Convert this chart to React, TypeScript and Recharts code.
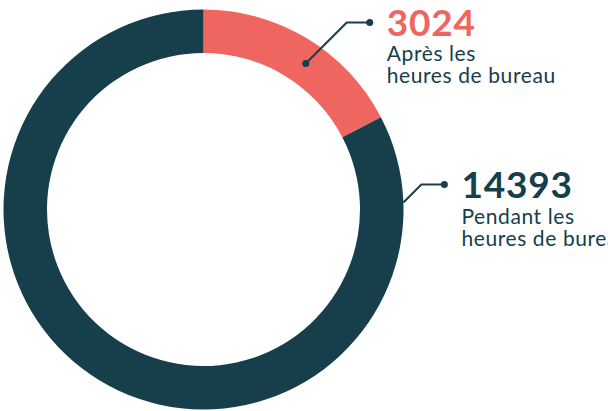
import { PieChart, Pie, Cell } from 'recharts'

// Work hours split
const labels = ['Après les heures de bureau', 'Pendant les heures de bureau']
const subtitleLines = [
  ['Après les', 'heures de bureau'],
  ['Pendant les', 'heures de bureau'],
]
const values = [3024, 14393]
const colors = ['#ef6660', '#163e4b']

// where each callout leaves the ring (degrees, and radius factor inside the ring)
const calloutAngles = [55, 2]
const calloutOnRing = [0.5, 1]

const data = labels.map((name, i) => ({ name, value: values[i] }))

const RAD = Math.PI / 180
const DARK = '#163e4b'

const renderLabel = (props: any) => {
  const { cx, cy, innerRadius, outerRadius, index } = props
  const angle = calloutAngles[index]
  const r = innerRadius + (outerRadius - innerRadius) * calloutOnRing[index]
  const x0 = cx + r * Math.cos(angle * RAD)
  const y0 = cy - r * Math.sin(angle * RAD)

  const step = index === 0 ? 41 : 18
  const elbowX = x0 + step
  const elbowY = y0 - step
  const endX = elbowX + 23
  const tx = endX + 17
  const numY = elbowY + 13

  return (
    <g key={`callout-${index}`}>
      {index === 0 && <circle cx={x0} cy={y0} r={3.5} fill={DARK} />}
      <polyline
        points={`${x0},${y0} ${elbowX},${elbowY} ${endX},${elbowY}`}
        fill="none"
        stroke={DARK}
        strokeWidth={2}
      />
      <circle cx={endX} cy={elbowY} r={3.5} fill={DARK} />
      <text
        x={tx}
        y={numY}
        fill={colors[index]}
        fontFamily="Lato, sans-serif"
        fontWeight={700}
        fontSize={37}
        letterSpacing={0.8}
      >
        {values[index]}
      </text>
      {subtitleLines[index].map((line, j) => (
        <text
          key={j}
          x={tx}
          y={numY + 26 + j * 22}
          fill={DARK}
          fontFamily="Lato, sans-serif"
          fontSize={21}
          letterSpacing={0.6}
        >
          {line}
        </text>
      ))}
    </g>
  )
}

export default function App() {
  return (
    <div style={{ position: 'absolute', left: 0, top: 0, width: 608, height: 411, background: '#fff' }}>
      <PieChart width={608} height={411} margin={{ top: 0, right: 0, bottom: 0, left: 0 }}>
        <Pie
          data={data}
          dataKey="value"
          nameKey="name"
          cx={203.5}
          cy={209.5}
          innerRadius={156.5}
          outerRadius={200}
          startAngle={90}
          endAngle={-270}
          stroke="none"
          labelLine={false}
          label={renderLabel}
          isAnimationActive={false}
        >
          {data.map((d, i) => (
            <Cell key={d.name} fill={colors[i]} />
          ))}
        </Pie>
      </PieChart>
    </div>
  )
}
